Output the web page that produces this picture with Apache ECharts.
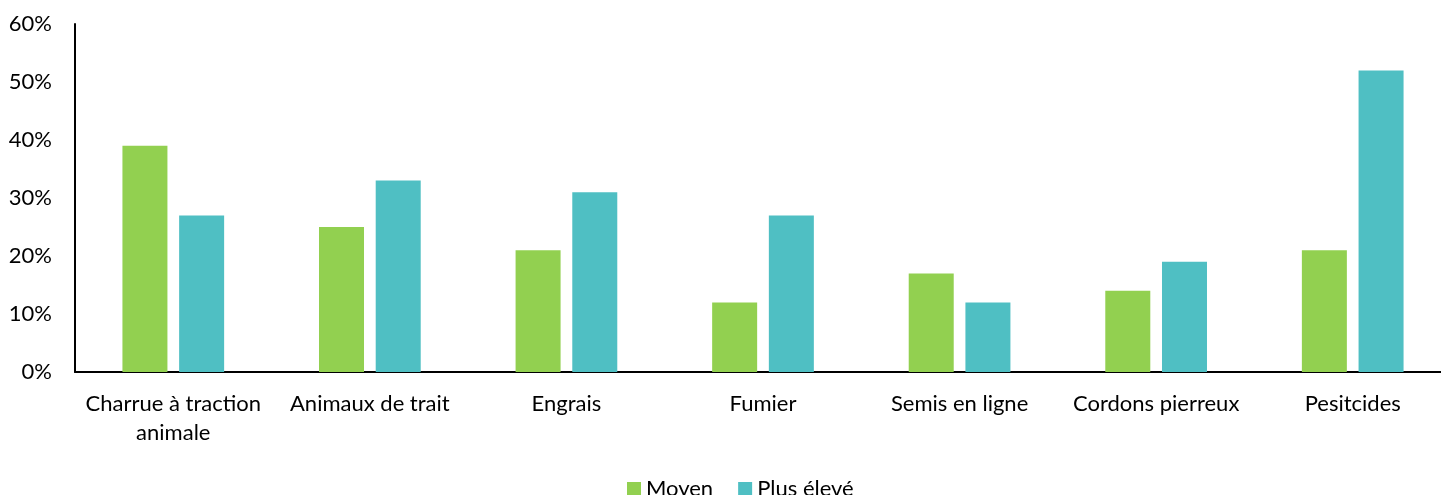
<!DOCTYPE html>
<html>
<head>
<meta charset="utf-8">
<script src="https://cdn.jsdelivr.net/npm/echarts@6/dist/echarts.min.js"></script>
<style>html,body{margin:0;padding:0;background:#fff}#c{width:1441px;height:495px}</style>
</head>
<body>
<div id="c"></div>
<script>
const categories = ["Charrue à traction\nanimale", "Animaux de trait", "Engrais", "Fumier", "Semis en ligne", "Cordons pierreux", "Pesitcides"];
const seriesNames = ["Moyen", "Plus élevé"];
const moyen = [39, 25, 21, 12, 17, 14, 21];
const plusEleve = [27, 33, 31, 27, 12, 19, 52];
const yTicks = [0, 10, 20, 30, 40, 50, 60];

const FONT = "Lato";
const chart = echarts.init(document.getElementById('c'));
chart.setOption({
  animation: false,
  textStyle: { fontFamily: FONT },
  grid: { left: 75, top: 24, height: 348, width: 1376, containLabel: false, outerBoundsMode: 'none' },
  legend: {
    data: seriesNames,
    top: 473,
    left: 622,
    itemWidth: 14,
    itemHeight: 14,
    itemGap: 25,
    icon: 'rect',
    textStyle: { fontFamily: FONT, fontSize: 22, color: '#000' }
  },
  xAxis: {
    type: 'category',
    data: categories,
    axisLine: { lineStyle: { color: '#000', width: 2 } },
    axisTick: { show: false },
    axisLabel: { color: '#000', fontSize: 22, fontFamily: FONT, margin: 17, lineHeight: 29, interval: 0 }
  },
  yAxis: {
    type: 'value',
    min: yTicks[0],
    max: yTicks[yTicks.length - 1],
    interval: 10,
    splitLine: { show: false },
    axisLine: { show: true, lineStyle: { color: '#000', width: 2 } },
    axisTick: { show: false },
    axisLabel: { color: '#000', fontSize: 22, fontFamily: FONT, margin: 23, formatter: v => v + '%' }
  },
  series: [
    { name: seriesNames[0], type: 'bar', data: moyen, itemStyle: { color: '#92D050' }, barWidth: 45, barGap: '26%' },
    { name: seriesNames[1], type: 'bar', data: plusEleve, itemStyle: { color: '#4FBFC3' }, barWidth: 45 }
  ]
});
</script>
</body>
</html>
